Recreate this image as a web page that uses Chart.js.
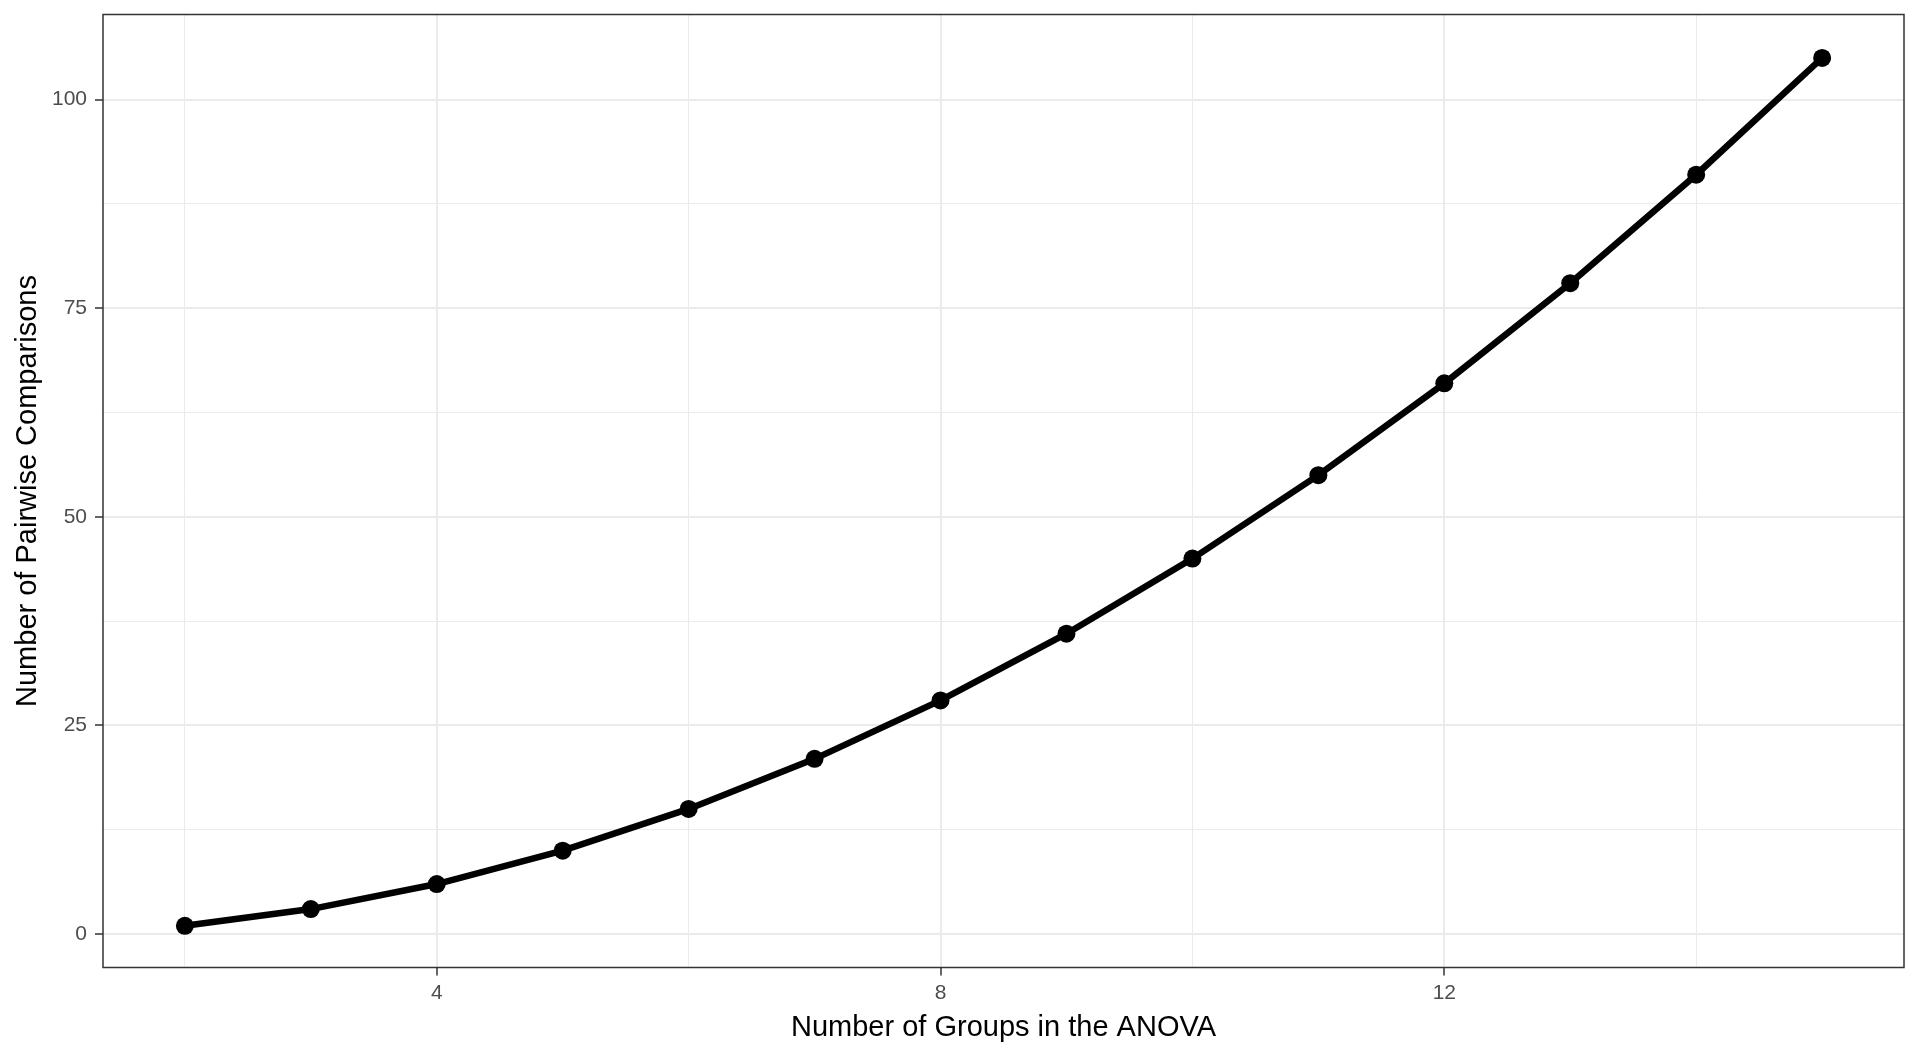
<!DOCTYPE html>
<html>
<head>
<meta charset="utf-8">
<title>Pairwise comparisons</title>
<script src="https://cdn.jsdelivr.net/npm/chart.js@4.4.1/dist/chart.umd.min.js"></script>
<style>
  html, body { margin: 0; padding: 0; background: #ffffff; }
  canvas { display: block; }
</style>
</head>
<body>
<canvas id="myChart" width="1920" height="1056"></canvas>
<script>
// data
const groups = [2, 3, 4, 5, 6, 7, 8, 9, 10, 11, 12, 13, 14, 15];
const comparisons = [1, 3, 6, 10, 15, 21, 28, 36, 45, 55, 66, 78, 91, 105];

// grid lines (major + minor) and the labelled ones
const xGrid = [2, 4, 6, 8, 10, 12, 14];
const xLabels = [4, 8, 12];
const yGrid = [0, 12.5, 25, 37.5, 50, 62.5, 75, 87.5, 100];
const yLabels = [0, 25, 50, 75, 100];

const xTitle = 'Number of Groups in the ANOVA';
const yTitle = 'Number of Pairwise Comparisons';

const tickFont = { family: '"Liberation Sans", Arial, sans-serif', size: 21 };
const titleFont = { family: '"Liberation Sans", Arial, sans-serif', size: 29 };

// panel border like theme_bw
const panelBorder = {
  id: 'panelBorder',
  afterDraw(chart) {
    const { ctx, chartArea } = chart;
    ctx.save();
    ctx.strokeStyle = '#333333';
    ctx.lineWidth = 1.5;
    ctx.strokeRect(chartArea.left, chartArea.top,
      chartArea.right - chartArea.left, chartArea.bottom - chartArea.top);
    ctx.restore();
  }
};

const isMajor = (list, v) => list.includes(v);

const ctx = document.getElementById('myChart').getContext('2d');
new Chart(ctx, {
  type: 'line',
  data: {
    datasets: [{
      data: groups.map((g, i) => ({ x: g, y: comparisons[i] })),
      borderColor: '#000000',
      backgroundColor: '#000000',
      borderWidth: 6.5,
      tension: 0,
      pointRadius: 9,
      pointBorderWidth: 0,
      pointBackgroundColor: '#000000',
      clip: false
    }]
  },
  options: {
    responsive: false,
    devicePixelRatio: 1,
    animation: false,
    layout: { padding: { left: 0, top: 14.5, right: 16, bottom: 0 } },
    plugins: {
      legend: { display: false },
      tooltip: { enabled: false }
    },
    scales: {
      x: {
        type: 'linear',
        min: 1.35,
        max: 15.65,
        afterBuildTicks: (axis) => { axis.ticks = xGrid.map(v => ({ value: v })); },
        afterFit: (axis) => {
          axis.height = 88.5;
          axis.paddingLeft = 0;
          axis.paddingRight = 0;
        },
        ticks: {
          autoSkip: false,
          maxRotation: 0,
          padding: 5,
          color: '#4D4D4D',
          font: tickFont,
          callback: (v) => isMajor(xLabels, v) ? String(v) : ''
        },
        grid: {
          color: '#EBEBEB',
          lineWidth: (c) => isMajor(xLabels, c.tick.value) ? 2 : 1,
          tickLength: 8,
          tickWidth: 1.5,
          tickColor: (c) => isMajor(xLabels, c.tick.value) ? '#333333' : 'rgba(0,0,0,0)'
        },
        border: { display: false },
        title: {
          display: true,
          text: xTitle,
          color: '#000000',
          font: titleFont,
          padding: { top: 0, bottom: 11 }
        }
      },
      y: {
        type: 'linear',
        min: -4.0,
        max: 110.2,
        afterBuildTicks: (axis) => { axis.ticks = yGrid.map(v => ({ value: v })); },
        afterFit: (axis) => {
          axis.width = 103;
          axis.paddingTop = 0;
          axis.paddingBottom = 0;
        },
        ticks: {
          autoSkip: false,
          padding: 8,
          color: '#4D4D4D',
          font: tickFont,
          callback: (v) => isMajor(yLabels, v) ? String(v) : ''
        },
        grid: {
          color: '#EBEBEB',
          lineWidth: (c) => isMajor(yLabels, c.tick.value) ? 2 : 1,
          tickLength: 8,
          tickWidth: 1.5,
          tickColor: (c) => isMajor(yLabels, c.tick.value) ? '#333333' : 'rgba(0,0,0,0)'
        },
        border: { display: false },
        title: {
          display: true,
          text: yTitle,
          color: '#000000',
          font: titleFont,
          padding: { top: 11, bottom: 0 }
        }
      }
    }
  },
  plugins: [panelBorder]
});
</script>
</body>
</html>
